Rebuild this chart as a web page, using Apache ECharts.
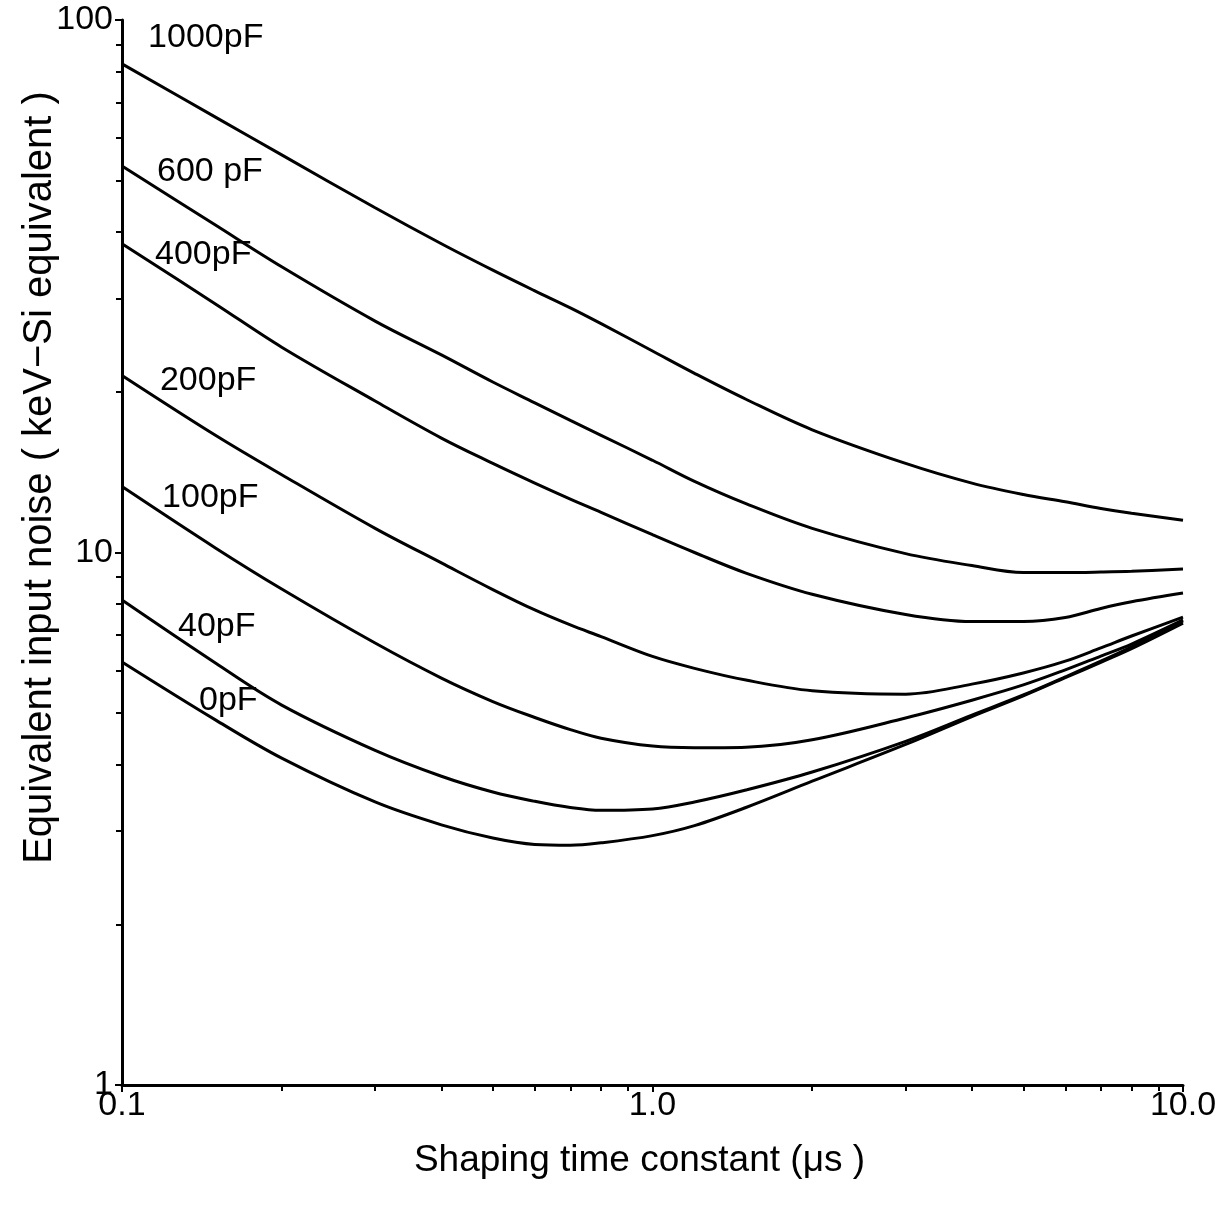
<!DOCTYPE html>
<html>
<head>
<meta charset="utf-8">
<script src="https://cdn.jsdelivr.net/npm/echarts@6/dist/echarts.min.js"></script>
<style>
  html, body { margin: 0; padding: 0; background: #fff; }
  #chart { width: 1217px; height: 1210px; }
</style>
</head>
<body>
<div id="chart"></div>
<script>
// shaping time constant (us), shared by all curves
var shapingTimes = [0.1, 0.15, 0.2, 0.3, 0.4, 0.5, 0.6, 0.7, 0.8, 1.0, 1.2, 1.5, 2, 3, 4, 5, 6, 7, 8, 10];

// equivalent input noise (keV-Si) for each detector capacitance
var noise1000pF = [82.7, 65.7, 55.8, 44.4, 38.0, 33.9, 31.0, 28.8, 26.9, 23.9, 21.7, 19.4, 17.0, 14.7, 13.5, 12.85, 12.45, 12.1, 11.85, 11.5];
var noise600pF = [53.2, 41.2, 34.4, 27.2, 23.5, 20.9, 19.1, 17.7, 16.6, 14.9, 13.6, 12.35, 11.1, 9.95, 9.45, 9.17, 9.17, 9.19, 9.22, 9.31];
var noise400pF = [38.0, 29.3, 24.3, 19.25, 16.4, 14.7, 13.5, 12.6, 11.9, 10.8, 10.0, 9.15, 8.35, 7.65, 7.42, 7.42, 7.55, 7.85, 8.08, 8.39];
var noise200pF = [21.5, 16.6, 14.0, 11.1, 9.56, 8.52, 7.80, 7.31, 6.95, 6.38, 6.06, 5.76, 5.50, 5.42, 5.66, 5.94, 6.25, 6.62, 6.97, 7.56];
var noise100pF = [13.3, 10.2, 8.54, 6.76, 5.81, 5.25, 4.90, 4.65, 4.48, 4.33, 4.30, 4.31, 4.45, 4.89, 5.28, 5.64, 6.02, 6.39, 6.73, 7.47];
var noise40pF = [8.14, 6.20, 5.17, 4.25, 3.80, 3.55, 3.41, 3.32, 3.28, 3.30, 3.40, 3.58, 3.87, 4.42, 4.95, 5.40, 5.84, 6.25, 6.65, 7.44];
var noise0pF = [6.23, 4.85, 4.11, 3.40, 3.08, 2.91, 2.83, 2.82, 2.85, 2.94, 3.07, 3.32, 3.72, 4.36, 4.92, 5.38, 5.82, 6.22, 6.60, 7.37];

// curve labels and where they sit (data coords of the text's left edge)
var curveLabels = ['1000pF', '600 pF', '400pF', '200pF', '100pF', '40pF', '0pF'];
var labelX = [0.112, 0.1164, 0.1154, 0.1179, 0.119, 0.1275, 0.1397];
var labelY = [92.5, 51.8, 36.2, 21.0, 12.7, 7.25, 5.28];

var curves = [noise1000pF, noise600pF, noise400pF, noise200pF, noise100pF, noise40pF, noise0pF];

var FONT = 'Liberation Sans';

var chart = echarts.init(document.getElementById('chart'));

var series = curves.map(function(values, i) {
	return {
		type: 'line',
		name: curveLabels[i],
		data: shapingTimes.map(function(t, j) {
			return [t, values[j]];
		}),
		symbol: 'none',
		smooth: 0.35,
		lineStyle: { color: '#000', width: 3 },
		silent: true
	};
});

series.push({
	type: 'scatter',
	symbolSize: 0,
	itemStyle: { color: '#000', opacity: 1 },
	data: curveLabels.map(function(name, i) {
		return { name: name, value: [labelX[i], labelY[i]] };
	}),
	label: {
		show: true,
		position: 'right',
		distance: 0,
		formatter: '{b}',
		color: '#000',
		opacity: 1,
		textBorderWidth: 0,
		fontFamily: FONT,
		fontSize: 34
	},
	silent: true
});

chart.setOption({
	animation: false,
	backgroundColor: '#fff',
	grid: {
		left: 122,
		right: 34,
		top: 20,
		bottom: 125,
		outerBoundsMode: 'none'
	},
	xAxis: {
		type: 'log',
		logBase: 10,
		min: 0.1,
		max: 10,
		name: 'Shaping time constant (μs )',
		nameLocation: 'middle',
		nameGap: 57,
		nameTextStyle: { color: '#000', fontFamily: FONT, fontSize: 37, padding: [0, 26, 0, 0] },
		axisLine: { lineStyle: { color: '#000', width: 3 } },
		axisTick: { length: 7, lineStyle: { color: '#000', width: 2 } },
		minorTick: { show: true, splitNumber: 9, length: 6, lineStyle: { color: '#000', width: 2 } },
		splitLine: { show: false },
		axisLabel: {
			color: '#000',
			fontFamily: FONT,
			fontSize: 34,
			margin: 4,
			formatter: function(v) {
				return v.toFixed(1);
			}
		}
	},
	yAxis: {
		type: 'log',
		logBase: 10,
		min: 1,
		max: 100,
		name: 'Equivalent input noise ( keV−Si equivalent )',
		nameLocation: 'middle',
		nameGap: 62,
		nameMoveOverlap: false,
		nameTextStyle: { color: '#000', fontFamily: FONT, fontSize: 40, padding: [0, 0, 0, 150] },
		axisLine: { lineStyle: { color: '#000', width: 3 } },
		axisTick: { length: 7, lineStyle: { color: '#000', width: 2 } },
		minorTick: { show: true, splitNumber: 9, length: 6, lineStyle: { color: '#000', width: 2 } },
		splitLine: { show: false },
		axisLabel: {
			color: '#000',
			fontFamily: FONT,
			fontSize: 34,
			margin: 9,
			formatter: function(v) {
				return String(Math.round(v));
			}
		}
	},
	series: series
});
</script>
</body>
</html>
